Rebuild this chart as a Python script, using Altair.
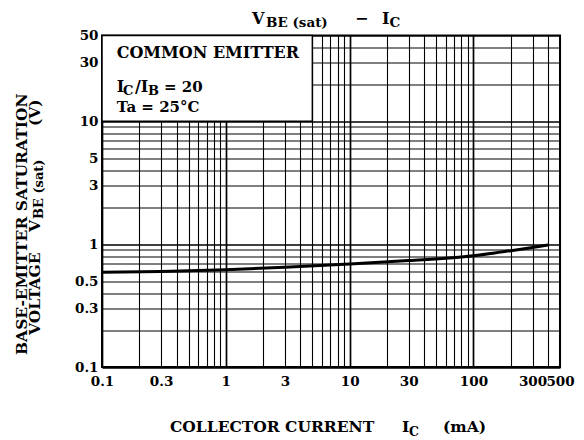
import altair as alt
import pandas as pd

# ---- data ----
ic_ma = [0.1, 0.3, 1, 3, 10, 30, 100, 200, 300, 400]
vbe_v = [0.59, 0.60, 0.62, 0.65, 0.69, 0.735, 0.805, 0.885, 0.94, 0.985]

x_grid = [0.1, 0.2, 0.3, 0.4, 0.5, 0.6, 0.7, 0.8, 0.9,
          1, 2, 3, 4, 5, 6, 7, 8, 9,
          10, 20, 30, 40, 50, 60, 70, 80, 90,
          100, 200, 300, 400, 500]
y_grid = [0.1, 0.2, 0.3, 0.4, 0.5, 0.6, 0.7, 0.8, 0.9,
          1, 2, 3, 4, 5, 6, 7, 8, 9,
          10, 20, 30, 40, 50]
x_labels = [0.1, 0.3, 1, 3, 10, 30, 100, 300, 500]
y_labels = [0.1, 0.3, 0.5, 1, 3, 5, 10, 30, 50]
decades = [0.1, 1, 10, 100]

box_x = [0.1, 5]
box_y = [10, 50]

FONT = "DejaVu Serif"

curve = pd.DataFrame({"ic": ic_ma, "vbe": vbe_v})
box = pd.DataFrame({"ic": [box_x[0]], "ic2": [box_x[1]], "vbe": [box_y[0]], "vbe2": [box_y[1]]})


def lab_expr(vals):
    arr = ",".join(repr(v) for v in vals)
    return "indexof([" + arr + "], datum.value) >= 0 ? datum.label : ''"


grid_w = {"condition": {"test": "indexof([" + ",".join(repr(v) for v in decades) + "], datum.value) >= 0",
                        "value": 1.7},
          "value": 1.1}

xs = alt.Scale(type="log", domain=[0.1, 500], nice=False)
ys = alt.Scale(type="log", domain=[0.1, 50], nice=False)

x_axis = alt.Axis(values=x_grid, format="~g", labelExpr=lab_expr(x_labels), ticks=False, domain=False,
                  grid=True, gridColor="black", gridWidth=grid_w, gridOpacity=1,
                  labelFont=FONT, labelFontSize=13.5, labelFontWeight="bold", labelColor="black",
                  labelPadding=7, labelOverlap=False, labelFlush=False, title=None)
y_axis = alt.Axis(values=y_grid, format="~g", labelExpr=lab_expr(y_labels), ticks=False, domain=False,
                  grid=True, gridColor="black", gridWidth=grid_w, gridOpacity=1,
                  labelFont=FONT, labelFontSize=13.5, labelFontWeight="bold", labelColor="black",
                  labelPadding=4, labelOverlap=False, labelFlush=False, title=None)

line = alt.Chart(curve).mark_line(color="black", strokeWidth=3, interpolate="monotone").encode(
    x=alt.X("ic:Q", scale=xs, axis=x_axis),
    y=alt.Y("vbe:Q", scale=ys, axis=y_axis),
)

legend_box = alt.Chart(box).mark_rect(fill="white", stroke="black", strokeWidth=1.5).encode(
    x=alt.X("ic:Q", scale=xs, axis=x_axis),
    x2="ic2:Q",
    y=alt.Y("vbe:Q", scale=ys, axis=y_axis),
    y2="vbe2:Q",
)


def txt(s, x, y, size, angle=0, align="left", baseline="alphabetic"):
    kw = dict(text=s, font=FONT, fontSize=size, fontWeight="bold", color="black",
              align=align, baseline=baseline)
    if angle:
        kw["angle"] = angle
    return alt.Chart(alt.Data(values=[{}])).mark_text(**kw).encode(
        x=alt.value(x), y=alt.value(y))


texts = [
    # title
    txt("V", 150, -11.5, 16),
    txt("BE (sat)", 164, -8.5, 13.5),
    txt("−", 253, -11.5, 16),
    txt("I", 280, -11.5, 16),
    txt("C", 287.5, -8.5, 13.5),
    # box annotation
    txt("COMMON EMITTER", 14.7, 22.8, 16),
    txt("I", 14.7, 56.2, 16),
    txt("C", 21, 59.5, 13),
    txt("/I", 33, 56.2, 16),
    txt("B", 46, 59.5, 13),
    txt("= 20", 62, 56.2, 15),
    txt("Ta = 25°C", 14.7, 76.2, 15),
    # y title
    txt("BASE-EMITTER SATURATION", -75, 319.5, 15.5, angle=270),
    txt("VOLTAGE", -62, 299.5, 15.5, angle=270),
    txt("V", -62, 196.5, 15.5, angle=270),
    txt("BE (sat)", -59, 183.5, 13, angle=270),
    txt("(V)", -62, 90.5, 15.5, angle=270),
    # x title
    txt("COLLECTOR CURRENT", 68, 396.5, 15.5),
    txt("I", 300, 396.5, 15.5),
    txt("C", 307, 400, 12.5),
    txt("(mA)", 341, 396.5, 15.5),
]

chart = alt.layer(line, legend_box, *texts).properties(
    width=458,
    height=331.5,
    padding={"left": 94, "top": 27.5, "right": 16, "bottom": 70},
    autosize=alt.AutoSizeParams(type="none"),
    background="white",
).configure_view(stroke="black", strokeWidth=2)

chart.save("out.html", embed_options={"renderer": "svg", "actions": False})
